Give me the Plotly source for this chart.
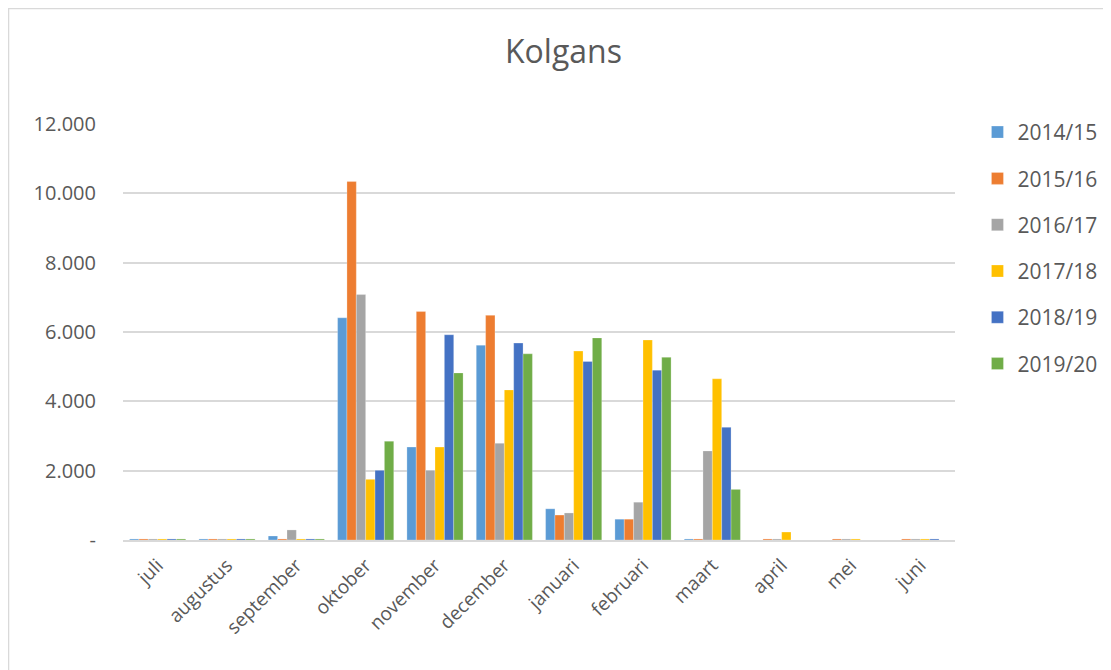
import plotly.graph_objects as go

# Kolgans counts per month, per season
months = ["juli", "augustus", "september", "oktober", "november", "december",
          "januari", "februari", "maart", "april", "mei", "juni"]

s2014_15 = [30, 30, 115, 6410, 2680, 5620, 900, 600, 30, 0, 0, 0]
s2015_16 = [30, 30, 30, 10340, 6590, 6480, 720, 600, 30, 30, 30, 30]
s2016_17 = [30, 30, 290, 7080, 2010, 2790, 780, 1090, 2570, 30, 30, 30]
s2017_18 = [30, 30, 30, 1750, 2680, 4330, 5450, 5770, 4650, 230, 30, 30]
s2018_19 = [30, 30, 30, 2010, 5920, 5680, 5150, 4900, 3250, 0, 0, 30]
s2019_20 = [30, 30, 30, 2850, 4820, 5370, 5830, 5270, 1460, 0, 0, 0]

season_names = ["2014/15", "2015/16", "2016/17", "2017/18", "2018/19", "2019/20"]
season_values = [s2014_15, s2015_16, s2016_17, s2017_18, s2018_19, s2019_20]
colors = ["#5B9BD5", "#ED7D31", "#A5A5A5", "#FFC000", "#4472C4", "#70AD47"]

y_ticks = [0, 2000, 4000, 6000, 8000, 10000, 12000]
y_ticktext = ["-" if v == 0 else f"{v:,}".replace(",", ".") for v in y_ticks]

TEXT = "#595959"
GRID = "#D9D9D9"
FONT = "Open Sans, Arial, sans-serif"

fig = go.Figure()
for name, vals, col in zip(season_names, season_values, colors):
    fig.add_trace(go.Bar(
        x=months, y=vals, name=name, legendgroup=name,
        marker=dict(color=col, line=dict(color="rgba(255,255,255,0.5)", width=0.5)),
    ))

# page has an 8px body margin, so positions below are shifted by 8px
fig.update_layout(
    width=1111,
    height=670,
    paper_bgcolor="white",
    plot_bgcolor="white",
    font=dict(family=FONT, color=TEXT, size=18),
    title=dict(text="Kolgans", x=0.5, xanchor="center", y=0.934, yanchor="middle",
               font=dict(size=32, color=TEXT, family=FONT)),
    margin=dict(l=115, r=164, t=116, b=138),
    barmode="group",
    bargap=0.19,
    bargroupgap=0,
    showlegend=True,
    legend=dict(
        x=1.027, xanchor="left", y=1.029, yanchor="top",
        font=dict(size=21, color=TEXT),
        tracegroupgap=16,
        bgcolor="rgba(0,0,0,0)",
        itemwidth=30,
    ),
)
fig.update_xaxes(
    tickangle=-45,
    tickfont=dict(size=19, color=TEXT),
    showline=True, linecolor=GRID, linewidth=1.5,
    showgrid=False, ticks="",
)
fig.layout.xaxis.ticklabelstandoff = 5
fig.update_yaxes(
    range=[0, 12000],
    tickvals=y_ticks, ticktext=y_ticktext,
    tickfont=dict(size=20, color=TEXT),
    gridcolor=GRID, gridwidth=1.5,
    zeroline=False, showline=False, ticks="", ticklen=0,
)
fig.layout.yaxis.ticklabelstandoff = 26

# chart frame
fig.add_shape(type="rect", xref="paper", yref="paper",
              x0=-0.1376, x1=1.3, y0=-0.4, y1=1.2777,
              line=dict(color=GRID, width=1.5), fillcolor="rgba(0,0,0,0)", layer="below")

fig.write_html("out.html")
